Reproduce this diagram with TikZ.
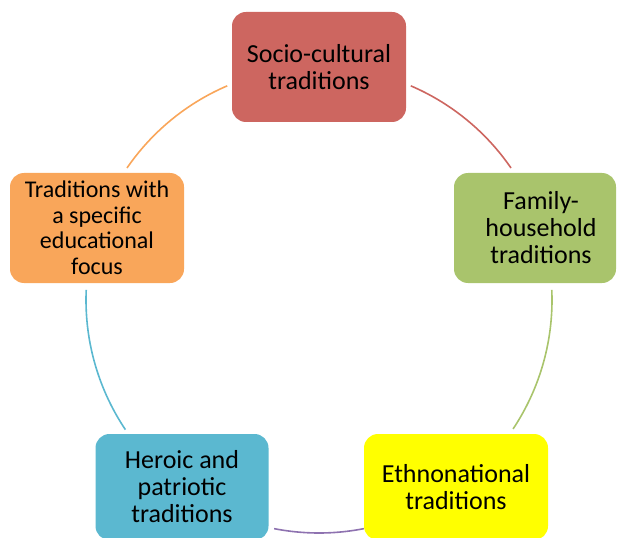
\documentclass[tikz,border=0pt]{standalone}
\usepackage{fontspec}
\setmainfont{Carlito}
\definecolor{cred}{HTML}{CD6660}
\definecolor{cgreen}{HTML}{A9C46C}
\definecolor{cyel}{HTML}{FFFF00}
\definecolor{cblue}{HTML}{5BB8D0}
\definecolor{corange}{HTML}{F9A65A}
\definecolor{cpurple}{HTML}{8E72B0}
\begin{document}
\begin{tikzpicture}[x=1pt,y=-1pt,
  box/.style={rounded corners=14pt, draw=none, minimum width=174pt, minimum height=110pt,
    align=center, inner sep=0pt, font=\fontsize{26}{27}\selectfont},
  txt/.style={align=center, inner sep=0pt, font=\fontsize{26}{27}\selectfont},
  ring/.style={line width=1.6pt, smooth, samples=60}]
\useasboundingbox (0,0) rectangle (617,537);
\clip (0,0) rectangle (617,537);
\coordinate (C) at (319,300);
% arcs
\draw[ring, cred]    plot[domain=-66.8:-34.5]   ({319+233*cos(\x)},{300+233*sin(\x)});
\draw[ring, cgreen]  plot[domain=-2.5:33.6]     ({319+233*cos(\x)},{300+233*sin(\x)});
\draw[ring, cpurple] plot[domain=78.9:101.1]    ({319+233*cos(\x)},{300+233*sin(\x)});
\draw[ring, cblue]   plot[domain=146.2:182.5]   ({319+233*cos(\x)},{300+233*sin(\x)});
\draw[ring, corange] plot[domain=214.5:246.8]   ({319+233*cos(\x)},{300+233*sin(\x)});
% boxes
\node[box, fill=cred] (soc) at (319,67) {Socio-cultural\\traditions};
\node[box, fill=cgreen, minimum width=162pt] (fam) at (535,228) {};
\node[txt] (famtext) at (541,228) {Family-\\household\\traditions};
\node[box, fill=corange, font=\fontsize{24}{25.5}\selectfont] (edu) at (97,228) {Traditions with\\a specific\\educational\\focus};
\node[box, fill=cblue, minimum width=173pt, minimum height=106pt] (her) at (182,487) {Heroic and\\patriotic\\traditions};
\node[box, fill=cyel, minimum width=184pt, minimum height=106pt] (eth) at (456,487) {Ethnonational\\traditions};
\end{tikzpicture}
\end{document}
